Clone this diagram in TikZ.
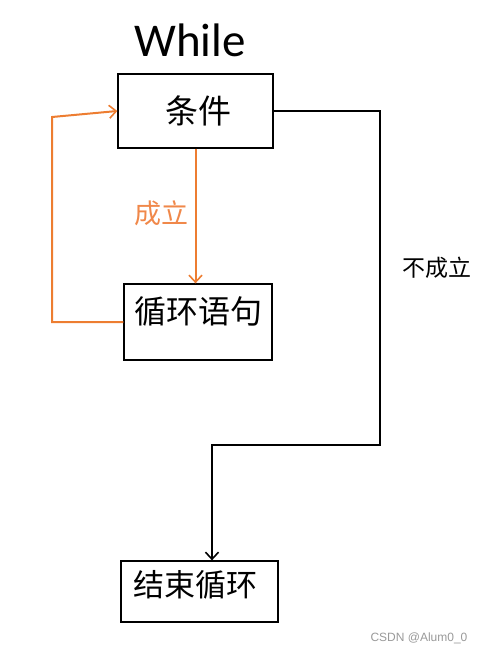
\documentclass[tikz,border=0pt]{standalone}
\usepackage{fontspec}
\setmainfont{Carlito}
\newfontfamily\cjk{Noto Sans CJK SC}
\newfontfamily\wmfont{Liberation Sans}
\usetikzlibrary{arrows.meta}
\definecolor{org}{HTML}{ED7D31}
\definecolor{orglbl}{HTML}{F0884A}
\definecolor{wmgray}{HTML}{999999}
\begin{document}
\begin{tikzpicture}[x=1pt,y=-1pt,
  box/.style={draw=black, line width=1.3pt, inner sep=0pt},
  cjktxt/.style={inner sep=0pt, font=\cjk\fontsize{#1}{#1}\selectfont},
  oline/.style={draw=org, line width=2pt},
  bline/.style={draw=black, line width=2.3pt},
  tip/.style={-{Straight Barb[length=7pt,width=13pt,line width=1.6pt]}}]
\path[use as bounding box] (0,0) rectangle (484,653);
% title
\node[inner sep=0pt, font=\fontsize{47}{47}\selectfont] (title) at (190,40) {While};
% boxes
\node[box, minimum width=155pt, minimum height=74pt] (cond) at (195.5,111) {};
\node[box, minimum width=148pt, minimum height=76pt] (loop) at (198,322) {};
\node[box, minimum width=157pt, minimum height=61pt] (endb) at (199.5,591.5) {};
% texts
\node[cjktxt=33] (condt) at (198,111) {条件};
\node[cjktxt=32] (loopt) at (198,311) {循环语句};
\node[cjktxt=31] (endt) at (195,585) {结束循环};
\node[cjktxt=27, text=orglbl] (yes) at (161,213) {成立};
\node[cjktxt=23] (no) at (437,268) {不成立};
% orange connectors
\draw[oline, tip] (cond.south) -- (cond.south |- loop.north);
\coordinate (f1) at (52,322);
\coordinate (f2) at (52,117);
\draw[oline, tip] (loop.west) -- (f1) -- (f2) -- (cond.west);
% black connector
\coordinate (b1) at (380,111);
\coordinate (b2) at (380,445);
\coordinate (b3) at (212,445);
\draw[bline, tip] (cond.east) -- (b1) -- (b2) -- (b3) -- (endb.north -| b3);
% watermark
\node[inner sep=0pt, text=wmgray, font=\wmfont\fontsize{12}{12}\selectfont] (wm) at (419,638) {CSDN @Alum0\_0};
\end{tikzpicture}
\end{document}
